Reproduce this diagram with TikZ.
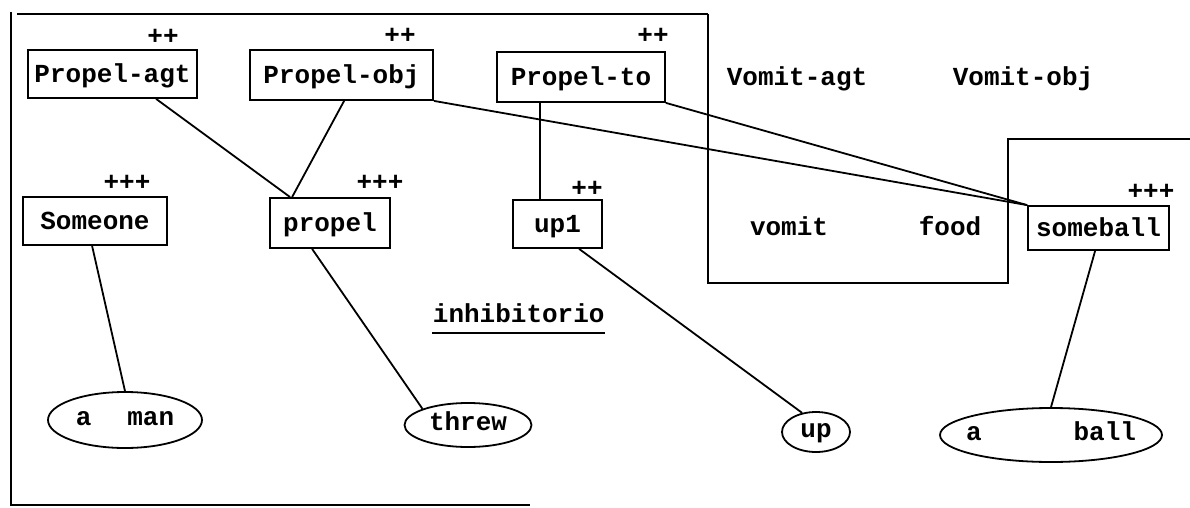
\documentclass[tikz,border=0pt]{standalone}
\usepackage{fontspec}
\setmonofont{Liberation Mono}
\usetikzlibrary{shapes.geometric}

\begin{document}
\begin{tikzpicture}[x=1pt, y=-1pt, line width=1.8pt,
  font=\fontsize{26}{30}\selectfont\ttfamily\bfseries,
  box/.style={draw, inner sep=0pt, minimum height=48pt, text height=17pt, text depth=0pt},
  oval/.style={draw, ellipse, inner sep=0pt, text height=10pt, text depth=0pt},
  word/.style={inner sep=0pt, text height=17pt, text depth=0pt},
  grade/.style={inner sep=0pt, text height=16pt, text depth=0pt}]
\useasboundingbox (0,0) rectangle (1190,508);

\draw[line width=2.6pt] (17,14) -- (708,14);
\draw (708,14) -- (708,283) -- (1008,283) -- (1008,139) -- (1190,139);
\draw (11,12) -- (11,505) -- (530,505);

\node[box, minimum width=169pt] (pagt) at (112.5,74) {Propel-agt};
\node[box, minimum width=183pt, minimum height=50pt] (pobj) at (341.5,75) {Propel-obj};
\node[box, minimum width=168pt, minimum height=50pt] (pto) at (581,77) {Propel-to};
\node[box, minimum width=144pt] (someone) at (95,221) {Someone};
\node[box, minimum width=120pt, minimum height=50pt] (propel) at (330,223) {propel};
\node[box, minimum width=89pt] (upone) at (557.5,224) {up1};
\node[box, minimum width=141pt, minimum height=44pt] (sball) at (1098.5,228) {someball};

\node[grade] (pagtgrade) at (163,37) {++};
\node[grade] (pobjgrade) at (400,36) {++};
\node[grade] (ptograde) at (653,36) {++};
\node[grade] (someonegrade) at (127,182) {+++};
\node[grade] (propelgrade) at (380,182) {+++};
\node[grade] (uponegrade) at (587,188) {++};
\node[grade] (sballgrade) at (1151,191) {+++};

\node[word] (vagt) at (797,77) {Vomit-agt};
\node[word] (vobj) at (1023,77) {Vomit-obj};
\node[word] (vomit) at (789,227) {vomit};
\node[word] (food) at (950,227) {food};
\node[word, anchor=base west] (inhib) at (432,322) {inhibitorio};
\draw ([yshift=-11pt]inhib.base west) -- ([yshift=-11pt]inhib.base east);

\node[oval, minimum width=154pt, minimum height=56pt] (aman) at (125,420) {a\hspace{36pt}man};
\node[oval, minimum width=127pt, minimum height=44pt] (threw) at (468,425) {threw};
\node[oval, minimum width=68pt, minimum height=40pt] (up) at (816,432) {up};
\node[oval, minimum width=222pt, minimum height=54pt] (aball) at (1051,435) {\makebox[150pt]{a\hspace{92pt}ball}};

\draw ([xshift=129pt]pagt.south west) -- ([xshift=21pt]propel.north west);
\draw ([xshift=95pt]pobj.south west) -- ([xshift=23pt]propel.north west);
\draw (pobj.south east) -- (sball.north west);
\draw (pto.south east) -- (sball.north west);
\draw ([xshift=44pt]pto.south west) -- ([xshift=28pt]upone.north west);
\draw ([xshift=70pt]someone.south west) -- (aman.north);
\draw ([xshift=43pt]propel.south west) -- (threw.north west);
\draw ([xshift=67pt]upone.south west) -- (up.126);
\draw ([xshift=68pt]sball.south west) -- (aball.north);
\end{tikzpicture}
\end{document}
